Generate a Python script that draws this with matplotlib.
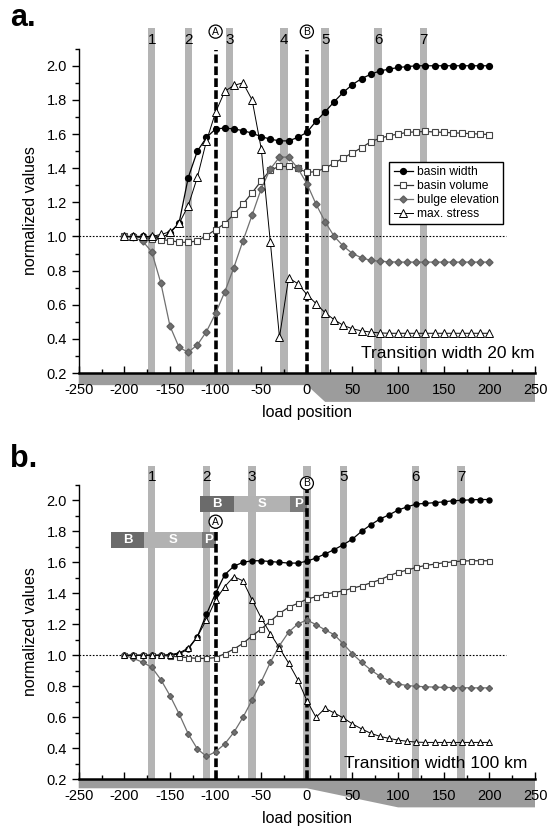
import numpy as np
import matplotlib
matplotlib.use('Agg')
import matplotlib.pyplot as plt
from matplotlib.patches import Polygon, Rectangle
from matplotlib.ticker import MultipleLocator, FormatStrFormatter

plt.rcParams['font.family'] = ['Liberation Sans', 'DejaVu Sans']
plt.rcParams['axes.unicode_minus'] = False

load_pos = np.arange(-200, 201, 10)

# panel a: transition width 20 km
a_width = [1.0, 1.0, 1.0, 0.995, 0.99, 1.02, 1.08, 1.345, 1.50, 1.58, 1.63,
           1.635, 1.63, 1.62, 1.605, 1.585, 1.57, 1.56, 1.56, 1.58, 1.61,
           1.675, 1.73, 1.79, 1.845, 1.89, 1.925, 1.95, 1.97, 1.98, 1.99,
           1.995, 2.0, 2.0, 2.0, 2.0, 2.0, 2.0, 2.0, 2.0, 2.0]
a_volume = [1.0, 0.997, 0.993, 0.988, 0.982, 0.976, 0.967, 0.965, 0.975, 1.005, 1.04,
            1.075, 1.13, 1.19, 1.256, 1.325, 1.39, 1.41, 1.41, 1.40, 1.375,
            1.38, 1.40, 1.43, 1.46, 1.49, 1.52, 1.555, 1.575, 1.59, 1.60,
            1.61, 1.613, 1.615, 1.612, 1.61, 1.607, 1.605, 1.602, 1.60, 1.597]
a_bulge = [1.0, 0.995, 0.973, 0.91, 0.727, 0.475, 0.35, 0.322, 0.365, 0.443, 0.55,
           0.675, 0.818, 0.975, 1.125, 1.28, 1.395, 1.465, 1.465, 1.40, 1.31,
           1.19, 1.086, 1.0, 0.943, 0.90, 0.875, 0.86, 0.855, 0.852, 0.85,
           0.85, 0.85, 0.85, 0.85, 0.85, 0.85, 0.85, 0.85, 0.85, 0.85]
a_stress = [1.0, 1.0, 1.0, 1.0, 1.012, 1.027, 1.076, 1.18, 1.347, 1.56, 1.728,
            1.85, 1.885, 1.90, 1.80, 1.514, 0.965, 0.41, 0.757, 0.724, 0.66,
            0.607, 0.553, 0.512, 0.479, 0.459, 0.447, 0.44, 0.435, 0.433, 0.433,
            0.433, 0.433, 0.433, 0.433, 0.433, 0.433, 0.433, 0.433, 0.433, 0.433]

# panel b: transition width 100 km
b_width = [1.0, 1.0, 1.0, 1.0, 1.0, 1.0, 1.01, 1.04, 1.12, 1.265, 1.40,
           1.52, 1.575, 1.60, 1.61, 1.61, 1.605, 1.60, 1.595, 1.595, 1.607,
           1.628, 1.654, 1.682, 1.714, 1.75, 1.80, 1.842, 1.879, 1.906, 1.937,
           1.958, 1.976, 1.98, 1.985, 1.99, 1.997, 2.0, 2.003, 2.005, 2.005]
b_volume = [1.0, 1.0, 1.0, 1.0, 1.0, 0.995, 0.99, 0.985, 0.98, 0.98, 0.985,
            1.01, 1.04, 1.077, 1.125, 1.17, 1.22, 1.27, 1.31, 1.335, 1.362,
            1.378, 1.395, 1.405, 1.416, 1.433, 1.448, 1.467, 1.487, 1.513, 1.535,
            1.55, 1.567, 1.58, 1.588, 1.597, 1.603, 1.608, 1.61, 1.61, 1.61]
b_bulge = [1.0, 0.98, 0.955, 0.923, 0.843, 0.74, 0.622, 0.493, 0.396, 0.348, 0.378,
           0.428, 0.503, 0.60, 0.712, 0.83, 0.955, 1.063, 1.149, 1.202, 1.228,
           1.198, 1.164, 1.133, 1.073, 1.009, 0.955, 0.906, 0.865, 0.837, 0.815,
           0.805, 0.80, 0.797, 0.795, 0.793, 0.792, 0.791, 0.79, 0.79, 0.79]
b_stress = [1.0, 1.0, 1.0, 1.0, 1.0, 1.005, 1.015, 1.047, 1.12, 1.23, 1.357,
            1.443, 1.508, 1.48, 1.357, 1.24, 1.14, 1.047, 0.95, 0.843, 0.708,
            0.60, 0.658, 0.628, 0.596, 0.557, 0.525, 0.497, 0.477, 0.464, 0.453,
            0.445, 0.44, 0.438, 0.438, 0.438, 0.438, 0.438, 0.438, 0.438, 0.438]

a_bars = [-170, -130, -85, -25, 20, 78, 128]
a_bar_labels = ['1', '2', '3', '4', '5', '6', '7']
b_bars = [-170, -110, -60, 0, 40, 119, 169]
b_bar_labels = ['1', '2', '3', '', '5', '6', '7']

series_names = ['basin width', 'basin volume', 'bulge elevation', 'max. stress']


def draw_panel(ax, width, volume, bulge, stress, bars, bar_labels,
               trans_w, band_h, ms):
    ax.set_xlim(-250, 250)
    ax.set_ylim(0.2, 2.1)
    for s in ['top', 'right']:
        ax.spines[s].set_visible(False)
    ax.spines['left'].set_linewidth(1.0)
    ax.spines['bottom'].set_linewidth(1.8)
    ax.spines['bottom'].set_zorder(6)

    ax.xaxis.set_major_locator(MultipleLocator(50))
    ax.xaxis.set_minor_locator(MultipleLocator(25))
    ax.yaxis.set_major_locator(MultipleLocator(0.2))
    ax.yaxis.set_minor_locator(MultipleLocator(0.1))
    ax.yaxis.set_major_formatter(FormatStrFormatter('%.1f'))
    ax.tick_params(axis='x', which='both', direction='in', pad=7, labelsize=10.5)
    ax.tick_params(axis='x', which='major', length=5, width=1)
    ax.tick_params(axis='x', which='minor', length=3, width=1)
    ax.tick_params(axis='y', which='both', direction='out', labelsize=10.5)
    ax.tick_params(axis='y', which='major', length=5, width=1)
    ax.tick_params(axis='y', which='minor', length=3, width=1)
    ax.set_yticks(np.arange(0.2, 2.01, 0.2))

    # lithosphere profile below the axis
    band = Polygon([(-250, 0.2), (250, 0.2), (250, 0.2 - band_h[1]),
                    (trans_w, 0.2 - band_h[1]), (0, 0.2 - band_h[0]),
                    (-250, 0.2 - band_h[0])],
                   closed=True, fc='#9c9c9c', ec='none', clip_on=False, zorder=0)
    ax.add_patch(band)

    for x, lab in zip(bars, bar_labels):
        ax.add_patch(Rectangle((x - 4, 0.2), 8, 2.02, fc='#b4b4b4', ec='none',
                               clip_on=False, zorder=1))
        if lab:
            ax.text(x, 2.15, lab, ha='center', va='center', fontsize=11, zorder=2,
                    clip_on=False)

    ax.plot([-250, 218], [1.0, 1.0], ls=(0, (1.5, 1.5)), color='black', lw=0.8, zorder=2)

    ax.plot(load_pos, width, '-o', color='black', lw=0.9, ms=ms, zorder=4,
            label=series_names[0])
    ax.plot(load_pos, volume, '-s', color='#333333', mfc='white', mec='#444444',
            mew=0.8, lw=0.9, ms=ms, zorder=4, label=series_names[1])
    ax.plot(load_pos, bulge, '-D', color='#707070', mec='#606060', lw=0.9,
            ms=ms * 0.85, zorder=4, label=series_names[2])
    ax.plot(load_pos, stress, '-^', color='black', mfc='white', mec='black',
            mew=0.7, lw=0.7, ms=ms * 1.25, zorder=4, label=series_names[3])

    ax.set_xlabel('load position', fontsize=11.5, labelpad=6)
    ax.set_ylabel('normalized values', fontsize=11.5, labelpad=6)


def circled(ax, x, y, s):
    ax.text(x, y, s, ha='center', va='center', fontsize=7.5, zorder=6, clip_on=False,
            bbox=dict(boxstyle='circle,pad=0.15', fc='white', ec='black', lw=0.9))


fig = plt.figure(figsize=(5.49, 8.31), dpi=100)
ax_a = fig.add_axes([0.1434, 0.5511, 0.8311, 0.3903])
ax_b = fig.add_axes([0.1434, 0.0622, 0.8311, 0.3544])

# panel a
draw_panel(ax_a, a_width, a_volume, a_bulge, a_stress, a_bars, a_bar_labels,
           20, (0.071, 0.169), 4.2)
for x in [-100, 0]:
    ax_a.plot([x, x], [0.2, 2.09], color='black', lw=2.6, ls=(0, (2.4, 0.9)),
              zorder=3, clip_on=False)
circled(ax_a, -100, 2.2, 'A')
circled(ax_a, 0, 2.2, 'B')
ax_a.legend(loc='upper left', bbox_to_anchor=(0.681, 0.65), fontsize=8.7,
            frameon=True, fancybox=False, edgecolor='black', framealpha=1,
            handlelength=1.6, handletextpad=0.3, labelspacing=0.15,
            borderpad=0.35, borderaxespad=0)
ax_a.text(250, 0.316, 'Transition width 20 km', ha='right', va='center', fontsize=12.5,
          zorder=5)
fig.text(0.018, 0.978, 'a.', fontsize=22, fontweight='bold', va='center')

# panel b
draw_panel(ax_b, b_width, b_volume, b_bulge, b_stress, b_bars, b_bar_labels,
           100, (0.058, 0.181), 3.6)
ax_b.plot([-100, -100], [0.2, 1.82], color='black', lw=2.6, ls=(0, (2.4, 0.9)),
          zorder=3)
ax_b.plot([0, 0], [0.2, 2.067], color='black', lw=2.6, ls=(0, (2.4, 0.9)),
          zorder=3)
circled(ax_b, -100, 1.862, 'A')
circled(ax_b, 0, 2.11, 'B')

# B / S / P segments
seg_cols = ['#6b6b6b', '#b2b2b2', '#7c7c7c']
for x0, x1, x2, x3, y0 in [(-214.7, -178, -115, -100, 1.694), (-117, -80, -18, 0, 1.926)]:
    for (l, r), c, s in zip([(x0, x1), (x1, x2), (x2, x3)], seg_cols, ['B', 'S', 'P']):
        ax_b.add_patch(Rectangle((l, y0), r - l, 0.1, fc=c, ec='none', zorder=2))
        ax_b.text((l + r) / 2, y0 + 0.05, s, ha='center', va='center', color='white',
                  fontsize=9.5, fontweight='bold', zorder=3)

ax_b.text(242, 0.303, 'Transition width 100 km', ha='right', va='center', fontsize=12.5,
          zorder=5)
fig.text(0.018, 0.448, 'b.', fontsize=22, fontweight='bold', va='center')

fig.savefig('out.png', dpi=100)
